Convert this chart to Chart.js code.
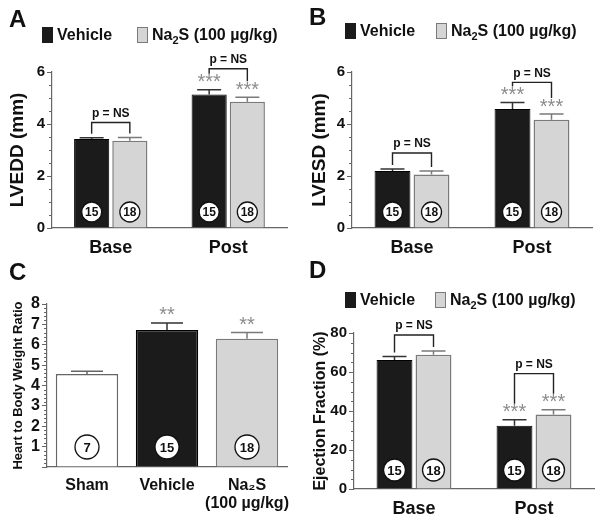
<!DOCTYPE html>
<html>
<head>
<meta charset="utf-8">
<script src="https://cdn.jsdelivr.net/npm/chart.js@4.4.1/dist/chart.umd.min.js"></script>
<style>
  body { margin: 0; background: #fff; }
  #wrap { position: relative; width: 604px; height: 520px; }
  canvas { position: absolute; }
</style>
</head>
<body>
<div id="wrap">
  <canvas id="panelA" width="302" height="260" style="left:0;top:0"></canvas>
  <canvas id="panelB" width="302" height="260" style="left:302px;top:0"></canvas>
  <canvas id="panelC" width="302" height="260" style="left:0;top:260px"></canvas>
  <canvas id="panelD" width="302" height="260" style="left:302px;top:260px"></canvas>
</div>
<script>
const FONT = "'Liberation Sans', Arial, Helvetica, sans-serif";

// ---- data (mean, SEM) ----
const phases = ['Base', 'Post'];
const nVehicle = [15, 15];
const nNa2s = [18, 18];
const starsVehicle = ['', '***'];
const starsNa2s = ['', '***'];

const lveddVehicle = [3.42, 5.13];
const lveddVehicleSem = [0.05, 0.19];
const lveddNa2s = [3.36, 4.86];
const lveddNa2sSem = [0.12, 0.17];

const lvesdVehicle = [2.19, 4.58];
const lvesdVehicleSem = [0.08, 0.25];
const lvesdNa2s = [2.06, 4.16];
const lvesdNa2sSem = [0.13, 0.22];

const hbwGroups = ['Sham', 'Vehicle', ['Na₂S', '(100 µg/kg)']];
const hbwValues = [4.56, 6.72, 6.29];
const hbwSem = [0.14, 0.35, 0.31];
const hbwN = [7, 15, 18];
const hbwStars = ['', '**', '**'];

const efVehicle = [66.2, 32.4];
const efVehicleSem = [1.7, 3.1];
const efNa2s = [68.8, 38.2];
const efNa2sSem = [2.0, 2.5];

// ---- colours ----
const VEH_FILL = '#1b1b1b', VEH_LINE = '#000000';
const NA_FILL = '#d5d5d5', NA_LINE = '#7a7a7a';
const SHAM_FILL = '#ffffff', SHAM_LINE = '#666666';
const AXIS = '#666666';
const TXT = '#111111';

function drawRich(ctx, parts, x, y, size) {
  parts.forEach(([t, sub]) => {
    ctx.font = `bold ${sub ? Math.round(size * 0.68) : size}px ${FONT}`;
    ctx.fillText(t, x, sub ? y + size * 0.3 : y);
    x += ctx.measureText(t).width;
  });
}

const extras = {
  id: 'extras',
  afterDatasetsDraw(chart, args, o) {
    const ctx = chart.ctx;
    const ys = chart.scales.y;
    const area = chart.chartArea;
    ctx.save();

    // minor ticks on y axis
    ctx.strokeStyle = AXIS;
    ctx.lineWidth = 1;
    for (let k = 0; ys.min + k * o.minor <= ys.max + 1e-9; k++) {
      const v = ys.min + k * o.minor;
      if (Math.abs(v / o.major - Math.round(v / o.major)) < 1e-6) continue;
      const py = Math.round(ys.getPixelForValue(v)) + 0.5;
      ctx.beginPath();
      ctx.moveTo(area.left - 3, py);
      ctx.lineTo(area.left, py);
      ctx.stroke();
    }

    // error bars, stars, n circles
    const tops = [];
    chart.data.datasets.forEach((ds, d) => {
      const meta = chart.getDatasetMeta(d);
      tops[d] = [];
      meta.data.forEach((bar, i) => {
        const v = ds.data[i];
        const yt = ys.getPixelForValue(v + o.sem[d][i]);
        tops[d][i] = yt;
        const line = Array.isArray(ds.borderColor) ? ds.borderColor[i] : ds.borderColor;
        ctx.strokeStyle = line === VEH_LINE ? '#333' : line;
        ctx.lineWidth = 1.5;
        ctx.beginPath();
        ctx.moveTo(bar.x, bar.y);
        ctx.lineTo(bar.x, yt);
        ctx.moveTo(bar.x - o.cap / 2, yt);
        ctx.lineTo(bar.x + o.cap / 2, yt);
        ctx.stroke();

        const st = o.stars[d][i];
        if (st) {
          ctx.fillStyle = '#8c8c8c';
          ctx.font = `${o.starSize}px ${FONT}`;
          ctx.textAlign = 'center';
          ctx.textBaseline = 'alphabetic';
          ctx.fillText(st, bar.x, yt - 1.5);
        }

        const cy = ys.bottom - o.circleOff;
        ctx.beginPath();
        ctx.arc(bar.x, cy, o.circleR, 0, Math.PI * 2);
        ctx.fillStyle = '#fff';
        ctx.fill();
        ctx.strokeStyle = '#111';
        ctx.lineWidth = 1.3;
        ctx.stroke();
        ctx.fillStyle = TXT;
        ctx.font = `bold ${o.circleFont}px ${FONT}`;
        ctx.textAlign = 'center';
        ctx.textBaseline = 'middle';
        ctx.fillText(String(o.n[d][i]), bar.x, cy + 1);
      });
    });

    // p = NS brackets
    (o.brackets || []).forEach(b => {
      const a = chart.getDatasetMeta(0).data[b.cat];
      const c = chart.getDatasetMeta(1).data[b.cat];
      const ea = tops[0][b.cat] - (o.stars[0][b.cat] ? 16 : 4);
      const ec = tops[1][b.cat] - (o.stars[1][b.cat] ? 16 : 4);
      const top = Math.min(ea, ec) - b.rise;
      ctx.strokeStyle = '#222';
      ctx.lineWidth = 1.4;
      ctx.beginPath();
      ctx.moveTo(a.x, ea);
      ctx.lineTo(a.x, top);
      ctx.lineTo(c.x, top);
      ctx.lineTo(c.x, ec);
      ctx.stroke();
      ctx.fillStyle = TXT;
      ctx.font = `bold 12px ${FONT}`;
      ctx.textAlign = 'center';
      ctx.textBaseline = 'middle';
      ctx.fillText('p = NS', (a.x + c.x) / 2, top - 9);
    });
    ctx.restore();
  },
  afterDraw(chart, args, o) {
    const ctx = chart.ctx;
    ctx.save();
    ctx.fillStyle = TXT;
    ctx.textAlign = 'left';
    ctx.textBaseline = 'alphabetic';
    ctx.font = `bold 24px ${FONT}`;
    ctx.fillText(o.letter, o.letterX, o.letterY);

    if (o.legendY) {
      const y = o.legendY;
      ctx.lineWidth = 1;
      ctx.fillStyle = VEH_FILL;
      ctx.fillRect(o.legendX[0], y - 8, 11, 16);
      ctx.fillStyle = NA_FILL;
      ctx.fillRect(o.legendX[1], y - 8, 11, 16);
      ctx.strokeStyle = NA_LINE;
      ctx.strokeRect(o.legendX[1] + 0.5, y - 7.5, 10, 15);
      ctx.fillStyle = TXT;
      ctx.textBaseline = 'middle';
      drawRich(ctx, [['Vehicle', false]], o.legendX[0] + 15, y + 1, 16);
      drawRich(ctx, [['Na', false], ['2', true], ['S (100 µg/kg)', false]], o.legendX[1] + 15, y + 1, 16);
    }
    ctx.restore();
  }
};

function yScale(max, step, title, titleSize, titlePad, width, tickSize, hideZero) {
  return {
    min: 0,
    max: max,
    ticks: {
      stepSize: step,
      autoSkip: false,
      color: TXT,
      padding: 2,
      font: { family: FONT, size: tickSize, weight: 'bold' },
      callback: v => (hideZero && v === 0 ? '' : v)
    },
    grid: { drawOnChartArea: false, tickLength: 5, color: AXIS },
    border: { color: AXIS, width: 1.2 },
    title: {
      display: true,
      text: title,
      color: TXT,
      padding: { top: titlePad, bottom: 0 },
      font: { family: FONT, size: titleSize, weight: 'bold', lineHeight: 1 }
    },
    afterFit: s => { s.width = width; }
  };
}

function xScale(size, height) {
  return {
    grid: { display: false },
    border: { color: AXIS, width: 1.2 },
    ticks: {
      color: TXT,
      padding: 2,
      autoSkip: false,
      maxRotation: 0,
      minRotation: 0,
      font: { family: FONT, size: size, weight: 'bold', lineHeight: 1.12 }
    },
    afterFit: s => { s.height = height; }
  };
}

function pairedChart(id, vVals, nVals, vSem, nSem, yOpts, pad, extra) {
  return new Chart(document.getElementById(id), {
    type: 'bar',
    data: {
      labels: phases,
      datasets: [
        { label: 'Vehicle', data: vVals, backgroundColor: VEH_FILL, borderColor: VEH_LINE, borderWidth: 1 },
        { label: 'Na2S (100 µg/kg)', data: nVals, backgroundColor: NA_FILL, borderColor: NA_LINE, borderWidth: 1.5 }
      ]
    },
    options: {
      responsive: false,
      animation: false,
      layout: { padding: pad },
      datasets: { bar: { categoryPercentage: 0.65, barPercentage: 0.92 } },
      scales: { x: xScale(18, 260 - extra.bottom), y: yOpts },
      plugins: {
        legend: { display: false },
        tooltip: { enabled: false },
        extras: Object.assign({
          sem: [vSem, nSem],
          n: [nVehicle, nNa2s],
          stars: [starsVehicle, starsNa2s],
          cap: 24,
          starSize: 20,
          circleR: 10,
          circleOff: 16,
          circleFont: 12
        }, extra)
      }
    },
    plugins: [extras]
  });
}

pairedChart('panelA', lveddVehicle, lveddNa2s, lveddVehicleSem, lveddNa2sSem,
  yScale(6, 2, 'LVEDD (mm)', 19, 8.5, 52, 15, false),
  { top: 72, right: 15, bottom: 0, left: 0 },
  { bottom: 228, minor: 0.5, major: 2, letter: 'A', letterX: 9, letterY: 27,
    legendY: 35, legendX: [42, 137],
    brackets: [{ cat: 0, rise: 11 }, { cat: 1, rise: 5 }] });

pairedChart('panelB', lvesdVehicle, lvesdNa2s, lvesdVehicleSem, lvesdNa2sSem,
  yScale(6, 2, 'LVESD (mm)', 19, 8.5, 50, 15, false),
  { top: 72, right: 12, bottom: 0, left: 0 },
  { bottom: 228, minor: 0.5, major: 2, letter: 'B', letterX: 7, letterY: 25,
    legendY: 31, legendX: [43, 134],
    brackets: [{ cat: 0, rise: 12 }, { cat: 1, rise: 4 }] });

new Chart(document.getElementById('panelC'), {
  type: 'bar',
  data: {
    labels: hbwGroups,
    datasets: [{
      label: 'Heart to Body Weight Ratio',
      data: hbwValues,
      backgroundColor: [SHAM_FILL, VEH_FILL, NA_FILL],
      borderColor: [SHAM_LINE, VEH_LINE, NA_LINE],
      borderWidth: 1.5
    }]
  },
  options: {
    responsive: false,
    animation: false,
    layout: { padding: { top: 44, right: 15, bottom: 0, left: 0 } },
    datasets: { bar: { categoryPercentage: 1, barPercentage: 0.78 } },
    scales: {
      x: xScale(16, 53),
      y: yScale(8, 1, 'Heart to Body Weight Ratio', 13, 11.5, 47, 16, true)
    },
    plugins: {
      legend: { display: false },
      tooltip: { enabled: false },
      extras: {
        sem: [hbwSem],
        n: [hbwN],
        stars: [hbwStars],
        cap: 32,
        starSize: 20,
        circleR: 12,
        circleOff: 20,
        circleFont: 13,
        minor: 0.2,
        major: 1,
        letter: 'C', letterX: 9, letterY: 20
      }
    }
  },
  plugins: [extras]
});

pairedChart('panelD', efVehicle, efNa2s, efVehicleSem, efNa2sSem,
  yScale(80, 20, 'Ejection Fraction (%)', 16, 11, 52, 15, false),
  { top: 73, right: 10, bottom: 0, left: 0 },
  { bottom: 229, minor: 5, major: 20, letter: 'D', letterX: 7, letterY: 18,
    legendY: 40, legendX: [43, 133], circleR: 11, circleOff: 19, circleFont: 13,
    brackets: [{ cat: 0, rise: 12 }, { cat: 1, rise: 20 }] });
</script>
</body>
</html>
